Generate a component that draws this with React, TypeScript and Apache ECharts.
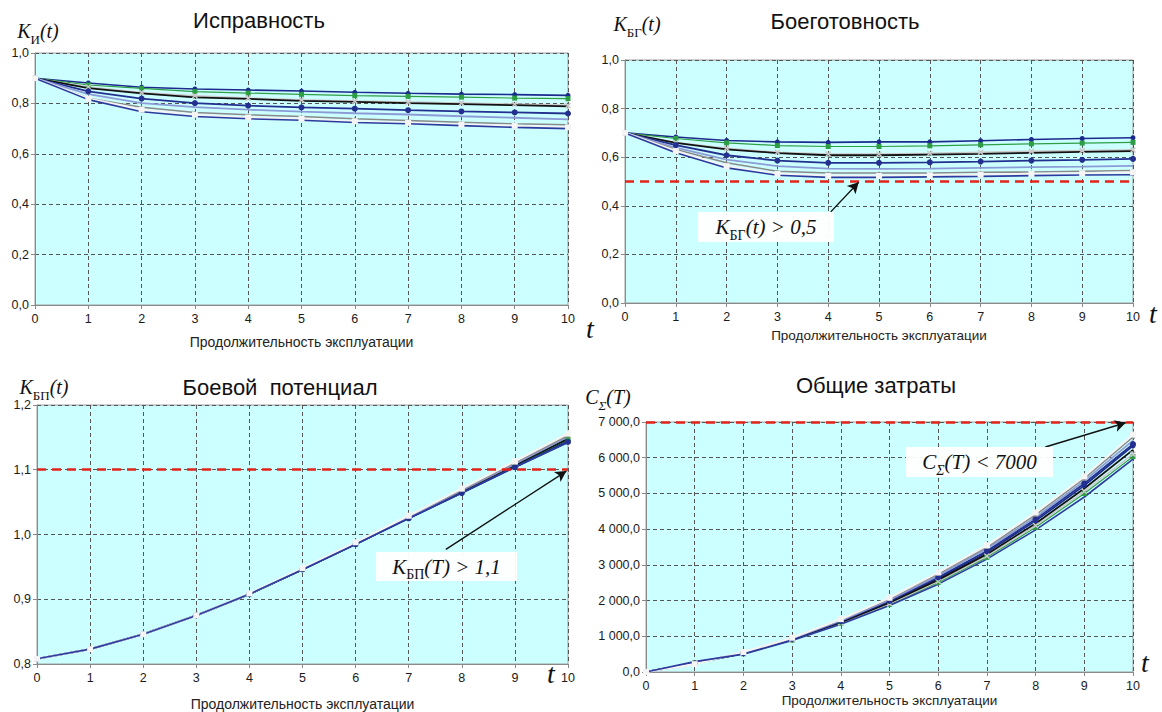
import React, { useEffect, useRef } from 'react';
import * as echarts from 'echarts';

// ---- Data ----
const T = [0, 1, 2, 3, 4, 5, 6, 7, 8, 9, 10];

// Исправность K_И(t)
const KI_1 = [0.9, 0.881, 0.864, 0.857, 0.853, 0.849, 0.844, 0.840, 0.837, 0.835, 0.832];
const KI_2 = [0.9, 0.873, 0.860, 0.847, 0.841, 0.836, 0.831, 0.828, 0.825, 0.821, 0.819];
const KI_3 = [0.9, 0.865, 0.843, 0.830, 0.821, 0.814, 0.809, 0.805, 0.801, 0.797, 0.792];
const KI_4 = [0.9, 0.861, 0.840, 0.824, 0.818, 0.810, 0.806, 0.801, 0.797, 0.793, 0.788];
const KI_5 = [0.9, 0.848, 0.819, 0.801, 0.791, 0.784, 0.779, 0.773, 0.768, 0.764, 0.760];
const KI_6 = [0.9, 0.837, 0.801, 0.785, 0.775, 0.767, 0.761, 0.756, 0.749, 0.743, 0.737];
const KI_7 = [0.9, 0.820, 0.785, 0.764, 0.755, 0.748, 0.739, 0.732, 0.725, 0.719, 0.715];
const KI_8 = [0.9, 0.819, 0.775, 0.755, 0.744, 0.739, 0.729, 0.723, 0.716, 0.711, 0.705];
const KI_9 = [0.9, 0.815, 0.767, 0.748, 0.739, 0.733, 0.724, 0.719, 0.712, 0.705, 0.700];

// Боеготовность K_БГ(t)
const KBG_1 = [0.7, 0.683, 0.669, 0.663, 0.661, 0.663, 0.663, 0.668, 0.673, 0.677, 0.680];
const KBG_2 = [0.7, 0.677, 0.659, 0.648, 0.644, 0.644, 0.647, 0.651, 0.655, 0.658, 0.661];
const KBG_3 = [0.7, 0.660, 0.637, 0.620, 0.613, 0.613, 0.616, 0.620, 0.624, 0.627, 0.630];
const KBG_4 = [0.7, 0.659, 0.632, 0.617, 0.608, 0.608, 0.611, 0.614, 0.618, 0.622, 0.625];
const KBG_5 = [0.7, 0.650, 0.608, 0.586, 0.577, 0.577, 0.579, 0.582, 0.586, 0.589, 0.593];
const KBG_6 = [0.7, 0.639, 0.590, 0.563, 0.553, 0.552, 0.553, 0.556, 0.559, 0.561, 0.564];
const KBG_7 = [0.7, 0.632, 0.577, 0.542, 0.535, 0.535, 0.535, 0.538, 0.539, 0.542, 0.545];
const KBG_8 = [0.7, 0.625, 0.563, 0.531, 0.523, 0.523, 0.526, 0.528, 0.531, 0.534, 0.538];
const KBG_9 = [0.7, 0.618, 0.556, 0.526, 0.517, 0.517, 0.519, 0.521, 0.524, 0.527, 0.528];

// Боевой потенциал K_БП(t)
const KBP_1 = [0.808, 0.823, 0.846, 0.875, 0.908, 0.946, 0.985, 1.025, 1.065, 1.105, 1.145];
const KBP_2 = [0.808, 0.823, 0.846, 0.875, 0.908, 0.946, 0.985, 1.026, 1.066, 1.106, 1.147];
const KBP_3 = [0.808, 0.823, 0.846, 0.875, 0.908, 0.947, 0.987, 1.028, 1.070, 1.112, 1.155];
const KBP_4 = [0.808, 0.823, 0.846, 0.875, 0.908, 0.946, 0.986, 1.026, 1.067, 1.107, 1.148];
const KBP_5 = [0.808, 0.823, 0.846, 0.875, 0.908, 0.946, 0.985, 1.025, 1.064, 1.104, 1.143];
const KBP_6 = [0.808, 0.823, 0.846, 0.875, 0.908, 0.947, 0.986, 1.027, 1.068, 1.109, 1.151];
const KBP_7 = [0.808, 0.823, 0.846, 0.875, 0.908, 0.947, 0.987, 1.028, 1.069, 1.111, 1.153];
const KBP_8 = [0.808, 0.823, 0.846, 0.875, 0.909, 0.948, 0.988, 1.029, 1.071, 1.113, 1.156];
const KBP_9 = [0.808, 0.823, 0.846, 0.875, 0.908, 0.946, 0.985, 1.025, 1.064, 1.104, 1.142];

// Общие затраты C_Σ(T)
const C_1 = [0, 245, 525, 920, 1410, 1970, 2620, 3350, 4230, 5220, 6330];
const C_2 = [0, 260, 510, 890, 1360, 1890, 2510, 3210, 4050, 5000, 6030];
const C_3 = [0, 255, 515, 900, 1370, 1910, 2540, 3250, 4100, 5060, 6100];
const C_4 = [0, 250, 520, 910, 1390, 1940, 2580, 3300, 4160, 5140, 6220];
const C_5 = [0, 240, 530, 930, 1420, 1990, 2650, 3390, 4280, 5280, 6380];
const C_6 = [0, 235, 540, 940, 1440, 2020, 2700, 3450, 4330, 5350, 6480];
const C_7 = [0, 230, 550, 950, 1460, 2050, 2750, 3500, 4400, 5420, 6580];
const C_8 = [0, 220, 560, 960, 1480, 2080, 2790, 3550, 4470, 5480, 6650];
const C_9 = [0, 290, 500, 880, 1340, 1860, 2460, 3160, 3980, 4900, 5960];

const Y_LIMIT_BG = 0.5;
const Y_LIMIT_BP = 1.1;
const Y_LIMIT_C = 7000;

const PANELS = [
  [KI_1, KI_2, KI_3, KI_4, KI_5, KI_6, KI_7, KI_8, KI_9],
  [KBG_1, KBG_2, KBG_3, KBG_4, KBG_5, KBG_6, KBG_7, KBG_8, KBG_9],
  [KBP_1, KBP_2, KBP_3, KBP_4, KBP_5, KBP_6, KBP_7, KBP_8, KBP_9],
  [C_1, C_2, C_3, C_4, C_5, C_6, C_7, C_8, C_9],
];

// ---- Styles ----
const LINE_STYLES = [
  { color: '#1B2A8C', symbol: 'circle', size: 5, width: 1.6 },
  { color: '#2E9E45', symbol: 'rect', size: 5, width: 1.2 },
  { color: '#C9C9C9', symbol: 'path://M0,0L10,10M10,0L0,10', size: 5, width: 1.6 },
  { color: '#111111', symbol: 'none', size: 0, width: 1.8 },
  { color: '#23308F', symbol: 'circle', size: 6, width: 1.8 },
  { color: '#8C9BD6', symbol: 'none', size: 0, width: 1.8 },
  { color: '#8A8A8A', symbol: 'triangle', size: 4, width: 1.6 },
  { color: '#F4F4F4', symbol: 'rect', size: 6, width: 2.2 },
  { color: '#2C3C9E', symbol: 'none', size: 0, width: 1.6 },
];

const GRIDS = [
  { left: 35, top: 53, width: 533, height: 252 },
  { left: 625, top: 60, width: 508, height: 243 },
  { left: 37, top: 405, width: 531, height: 260 },
  { left: 646, top: 422, width: 487, height: 250 },
];

const fmtDec = (v: number) => v.toFixed(1).replace('.', ',');
const fmtThousands = (v: number) => {
  const s = v.toFixed(1);
  const [i, d] = s.split('.');
  return i.replace(/\B(?=(\d{3})+(?!\d))/g, ' ') + ',' + d;
};

const SERIF = 'Liberation Serif';
const SANS = 'Liberation Sans';

function mathText(x: number, y: number, main: string, sub: string, rest: string, size: number, subItalic = false) {
  const subSize = Math.round(size * 0.66);
  return {
    type: 'text',
    x,
    y,
    z: 100,
    style: {
      text: `{m|${main}}{s|${sub}}{m|${rest}}`,
      align: 'center',
      verticalAlign: 'middle',
      rich: {
        m: { fontFamily: SERIF, fontStyle: 'italic', fontSize: size, fill: '#111', lineHeight: Math.round(size * 1.45), verticalAlign: 'middle' },
        s: { fontFamily: SERIF, fontStyle: subItalic ? 'italic' : 'normal', fontSize: subSize, fill: '#111', lineHeight: subSize, verticalAlign: 'bottom' },
      },
    },
  };
}

function titleText(x: number, y: number, text: string) {
  return {
    type: 'text',
    x,
    y,
    z: 100,
    style: { text, align: 'center', verticalAlign: 'middle', fontFamily: SANS, fontSize: 22, fill: '#111' },
  };
}

function bigT(x: number, y: number) {
  return {
    type: 'text',
    x,
    y,
    z: 100,
    style: { text: 't', align: 'center', verticalAlign: 'middle', fontFamily: SERIF, fontStyle: 'italic', fontSize: 28, fill: '#111' },
  };
}

function annBox(x: number, y: number, w: number, h: number, main: string, sub: string, rest: string, subItalic = false) {
  return [
    { type: 'rect', z: 99, shape: { x, y, width: w, height: h }, style: { fill: 'rgba(255,255,255,0.95)' } },
    mathText(x + w / 2, y + h / 2, main, sub, rest, 21, subItalic),
  ];
}

export default function App() {
  const ref = useRef<HTMLDivElement>(null);

  useEffect(() => {
    if (!ref.current) return;
    const chart = echarts.init(ref.current, undefined, { renderer: 'svg' });

    const yAxisDefs = [
      { min: 0, max: 1, interval: 0.2, formatter: fmtDec },
      { min: 0, max: 1, interval: 0.2, formatter: fmtDec },
      { min: 0.8, max: 1.2, interval: 0.1, formatter: fmtDec },
      { min: 0, max: 7000, interval: 1000, formatter: fmtThousands },
    ];
    const nameGaps = [30, 25, 33, 21];
    const nameSizes = [14, 13.5, 14, 13.5];

    const xAxis = GRIDS.map((_, i) => ({
      type: 'value',
      gridIndex: i,
      min: 0,
      max: 10,
      interval: 1,
      name: 'Продолжительность эксплуатации',
      nameLocation: 'middle',
      nameGap: nameGaps[i],
      nameTextStyle: { fontFamily: SANS, fontSize: nameSizes[i], color: '#222' },
      axisLine: { show: true, lineStyle: { color: '#8A8A8A', width: 1 } },
      axisTick: { show: true, length: 4, lineStyle: { color: '#8A8A8A' } },
      axisLabel: { fontFamily: SANS, fontSize: 12.5, color: '#1a1a1a', margin: 7 },
      splitLine: { show: true, lineStyle: { color: '#555', type: [4, 3], width: 1 } },
    }));

    const yAxis = yAxisDefs.map((d, i) => ({
      type: 'value',
      gridIndex: i,
      min: d.min,
      max: d.max,
      interval: d.interval,
      axisLine: { show: true, lineStyle: { color: '#8A8A8A', width: 1 } },
      axisTick: { show: true, length: 4, lineStyle: { color: '#8A8A8A' } },
      axisLabel: { fontFamily: SANS, fontSize: 12.5, color: '#1a1a1a', margin: 6, formatter: d.formatter },
      splitLine: { show: true, lineStyle: { color: '#555', type: [4, 3], width: 1 } },
    }));

    const series: any[] = [];
    PANELS.forEach((panel, p) => {
      panel.forEach((arr, k) => {
        const st = LINE_STYLES[k];
        series.push({
          type: 'line',
          xAxisIndex: p,
          yAxisIndex: p,
          data: T.map((t, i) => [t, arr[i]]),
          symbol: st.symbol,
          symbolSize: st.size,
          showSymbol: st.symbol !== 'none',
          lineStyle: { color: st.color, width: st.width },
          itemStyle: st.symbol.startsWith('path')
            ? { color: 'none', borderColor: st.color, borderWidth: 1.5 }
            : { color: st.color },
          z: 3,
        });
      });
    });

    const redLine = { color: '#E5231B', type: [9, 6], width: 2.5 };
    const arrowLine = { color: '#111', type: 'solid', width: 1.4 };
    const limitSeries = (p: number, yv: number, from: number[], to: number[]) => [
      {
        type: 'line',
        xAxisIndex: p,
        yAxisIndex: p,
        data: [],
        z: 5,
        markLine: {
          silent: true,
          symbol: 'none',
          animation: false,
          label: { show: false },
          lineStyle: redLine,
          data: [{ yAxis: yv }],
        },
      },
      {
        type: 'line',
        xAxisIndex: p,
        yAxisIndex: p,
        data: [],
        z: 6,
        markLine: {
          silent: true,
          animation: false,
          symbol: ['none', 'arrow'],
          symbolSize: [9, 11],
          label: { show: false },
          lineStyle: arrowLine,
          data: [[{ coord: from }, { coord: to }]],
        },
      },
    ];
    series.push(...limitSeries(1, Y_LIMIT_BG, [4.05, 0.375], [4.6, 0.497]));
    series.push(...limitSeries(2, Y_LIMIT_BP, [7.7, 0.977], [9.97, 1.098]));
    series.push(...limitSeries(3, Y_LIMIT_C, [8.2, 6300], [9.85, 6980]));

    const graphic: any[] = [
      titleText(259, 20, 'Исправность'),
      titleText(845, 21, 'Боеготовность'),
      titleText(280, 387, 'Боевой  потенциал'),
      titleText(876, 385, 'Общие затраты'),
      mathText(38, 31, 'K', 'И', '(t)', 20),
      mathText(637, 24, 'K', 'БГ', '(t)', 20),
      mathText(44, 387, 'K', 'БП', '(t)', 20),
      mathText(608, 397, 'C', 'Σ', '(T)', 20, true),
      bigT(590, 328),
      bigT(1153, 313),
      bigT(551, 673),
      bigT(1145, 662),
      ...annBox(698, 212, 136, 30, 'K', 'БГ', '(t) > 0,5'),
      ...annBox(376, 552, 141, 29, 'K', 'БП', '(T) > 1,1'),
      ...annBox(906, 447, 147, 30, 'C', 'Σ', '(T) < 7000', true),
    ];

    chart.setOption({
      animation: false,
      backgroundColor: '#ffffff',
      grid: GRIDS.map((g) => ({ ...g, show: true, backgroundColor: '#CCFFFF', borderColor: '#A0A0A0', borderWidth: 1, containLabel: false })),
      xAxis,
      yAxis,
      series,
      graphic,
    });

    return () => chart.dispose();
  }, []);

  return <div ref={ref} style={{ position: 'fixed', left: 0, top: 0, width: 1162, height: 712 }} />;
}
